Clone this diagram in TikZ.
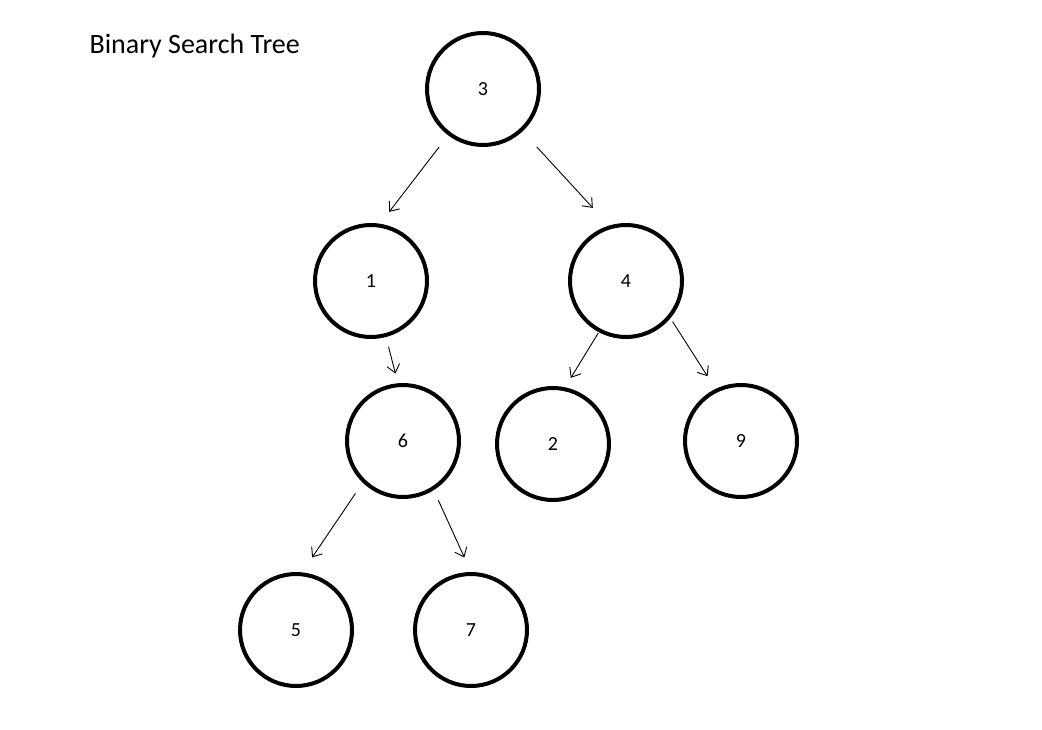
\documentclass[tikz,border=0pt]{standalone}
\usepackage{fontspec}
\setmainfont{Carlito}
\usepackage{tikz}
\usetikzlibrary{arrows.meta}

\begin{document}
\begin{tikzpicture}[x=1pt, y=-1pt,
	bstnode/.style={circle, draw, line width=4pt, minimum size=112pt, inner sep=0, font=\fontsize{20}{22}\selectfont},
	link/.style={line width=0.9pt, -{Straight Barb[length=8pt,width=13pt]}}
]
\useasboundingbox (0,0) rectangle (1042,730);
\node[anchor=base west, font=\fontsize{28}{34}\selectfont] (title) at (86,54) {Binary Search Tree};
% tree
\node[bstnode] (n3) at (483,89) {3};
\node[bstnode] (n1) at (371,281) {1};
\node[bstnode] (n4) at (626,281) {4};
\node[bstnode] (n6) at (403,441) {6};
\node[bstnode] (n2) at (553,444) {2};
\node[bstnode] (n9) at (741,441) {9};
\node[bstnode] (n5) at (296,630) {5};
\node[bstnode] (n7) at (471,630) {7};
\draw [link, shorten <=15pt, shorten >=15pt] (n3.233) -- (n1.81);
\draw [link, shorten <=21pt, shorten >=24pt] (n3.313) -- (n4.107);
\draw [link, shorten <=10pt, shorten >=10pt] (n1.285) -- (n6.95);
\draw [link, shorten <=1pt, shorten >=11pt] (n4.242) -- (n2.78);
\draw [link, shorten <=4pt, shorten >=15pt] (n4.320) -- (n9.116);
\draw [link, shorten <=13pt, shorten >=18pt] (n6.226) -- (n5.84);
\draw [link, shorten <=11pt, shorten >=16pt] (n6.302) -- (n7.90);
\end{tikzpicture}
\end{document}
